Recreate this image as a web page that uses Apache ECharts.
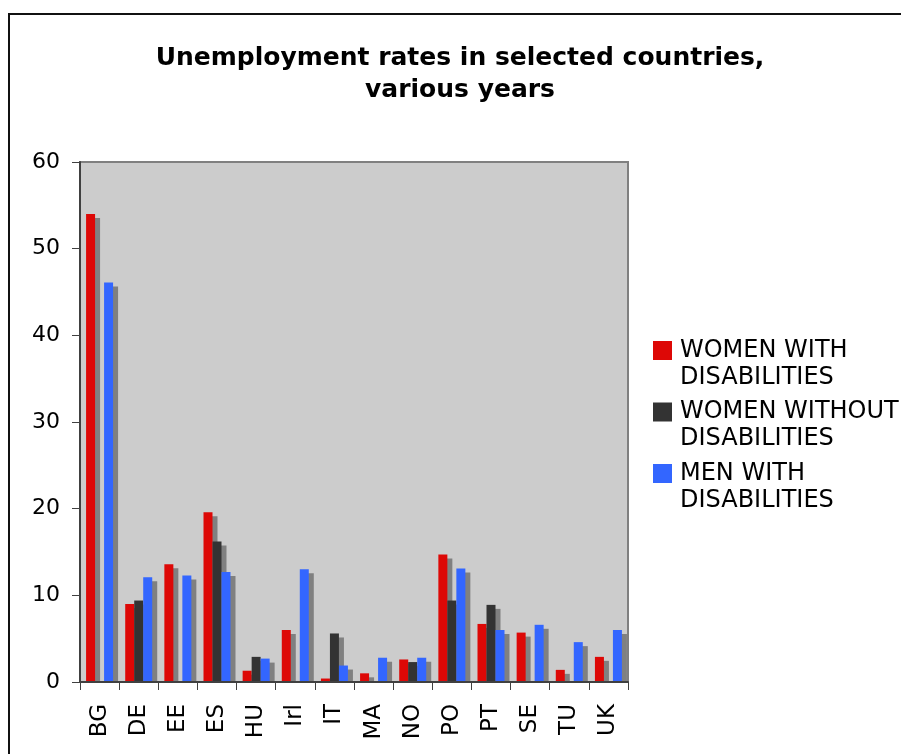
<!DOCTYPE html>
<html>
<head>
<meta charset="utf-8">
<script src="https://cdn.jsdelivr.net/npm/echarts@6/dist/echarts.min.js"></script>
<style>
  html, body { margin: 0; padding: 0; background: #ffffff; }
  #chart { width: 901px; height: 754px; }
</style>
</head>
<body>
<div id="chart"></div>
<script>
// Country codes along the x axis
const countries = ['BG', 'DE', 'EE', 'ES', 'HU', 'Irl', 'IT', 'MA', 'NO', 'PO', 'PT', 'SE', 'TU', 'UK'];

// Unemployment rates (%), null where no figure is available
const womenWithDisabilities    = [54.0, 9.0, 13.6, 19.6, 1.3, 6.0, 0.4, 1.0, 2.6, 14.7, 6.7, 5.7, 1.4, 2.9];
const womenWithoutDisabilities = [null, 9.4, null, 16.2, 2.9, null, 5.6, null, 2.3, 9.4, 8.9, null, null, null];
const menWithDisabilities      = [46.1, 12.1, 12.3, 12.7, 2.7, 13.0, 1.9, 2.8, 2.8, 13.1, 6.0, 6.6, 4.6, 6.0];

const seriesNames = ['WOMEN WITH\nDISABILITIES', 'WOMEN WITHOUT\nDISABILITIES', 'MEN WITH\nDISABILITIES'];
const seriesColors = ['#dd0806', '#333333', '#3366ff'];
const seriesValues = [womenWithDisabilities, womenWithoutDisabilities, menWithDisabilities];

const FONT = 'DejaVu Sans, Verdana, sans-serif';

// plot area geometry
const PLOT = { left: 80, top: 162, width: 548, height: 520 };

const chart = echarts.init(document.getElementById('chart'), null, { renderer: 'canvas' });

chart.setOption({
  animation: false,
  backgroundColor: '#ffffff',
  title: {
    text: 'Unemployment rates in selected countries,\nvarious years',
    left: 460,
    top: 42,
    textAlign: 'center',
    padding: 0,
    textStyle: {
      fontFamily: FONT,
      fontSize: 25,
      fontWeight: 'bold',
      color: '#000000',
      lineHeight: 32
    }
  },
  graphic: [{
    // outer frame of the chart area
    type: 'rect',
    shape: { x: 9, y: 14, width: 1000, height: 1000 },
    style: { fill: 'none', stroke: '#111111', lineWidth: 2 },
    silent: true,
    z: -10
  }, {
    // keeps the bar shadows from spilling below the baseline
    type: 'rect',
    shape: { x: PLOT.left - 1, y: PLOT.top + PLOT.height + 1, width: PLOT.width + 8, height: 6 },
    style: { fill: '#ffffff' },
    silent: true,
    z: 5
  }],
  legend: {
    orient: 'vertical',
    left: 653,
    top: 310,
    padding: 0,
    itemWidth: 19,
    itemHeight: 19,
    itemGap: -19.5,
    icon: 'rect',
    selectedMode: false,
    formatter: name => ' \n' + name,
    textStyle: {
      fontFamily: FONT,
      fontSize: 24,
      color: '#000000',
      lineHeight: 27,
      padding: [0, 0, 0, 3]
    },
    data: seriesNames
  },
  grid: {
    left: PLOT.left,
    top: PLOT.top,
    width: PLOT.width,
    height: PLOT.height,
    show: true,
    backgroundColor: '#cccccc',
    borderColor: '#808080',
    borderWidth: 2
  },
  xAxis: {
    type: 'category',
    data: countries,
    z: 10,
    axisLine: { show: true, lineStyle: { color: '#404040', width: 2 } },
    axisTick: { show: true, length: 8, lineStyle: { color: '#404040', width: 1 } },
    axisLabel: {
      rotate: 90,
      margin: 22,
      fontFamily: FONT,
      fontSize: 23,
      color: '#000000',
      interval: 0
    },
    splitLine: { show: false }
  },
  yAxis: {
    type: 'value',
    min: 0,
    max: 60,
    interval: 10,
    z: 10,
    axisLine: { show: true, lineStyle: { color: '#404040', width: 2 } },
    axisTick: { show: true, length: 8, lineStyle: { color: '#404040', width: 1 } },
    axisLabel: {
      margin: 20,
      fontFamily: FONT,
      fontSize: 22,
      color: '#000000'
    },
    splitLine: { show: false }
  },
  series: seriesNames.map((name, i) => ({
    name: name,
    type: 'bar',
    data: seriesValues[i],
    barWidth: 9,
    barGap: '0%',
    itemStyle: {
      color: seriesColors[i],
      shadowColor: '#808080',
      shadowOffsetX: 5,
      shadowOffsetY: 4,
      shadowBlur: 0
    }
  }))
});
</script>
</body>
</html>
